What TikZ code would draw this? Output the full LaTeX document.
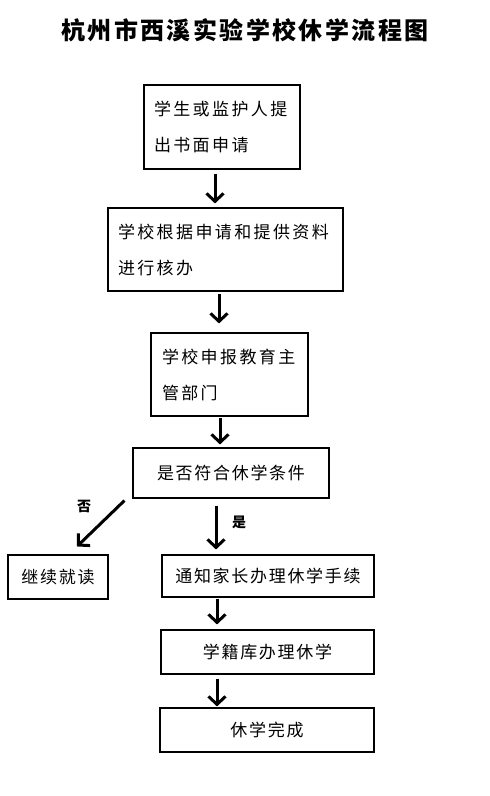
\documentclass[tikz,border=0pt]{standalone}
\usepackage{fontspec}
\usetikzlibrary{arrows.meta,calc}
\newfontfamily\cjk{Noto Sans CJK SC}[LetterSpace=10]
\newfontfamily\cjkwide{Noto Sans CJK SC}[LetterSpace=14]
\newfontfamily\cjktitle{Noto Sans CJK SC}[LetterSpace=10]
\begin{document}
\begin{tikzpicture}[x=1pt,y=-1pt,
  box/.style={draw,line width=1.1pt,inner sep=0pt},
  twoline/.style={box,align=left,font=\fontsize{17}{36}\cjkwide},
  oneline/.style={box,font=\fontsize{17}{20}\cjk},
  arr/.style={line width=3pt,arrows={-Straight Barb[length=8pt,width=17pt]}},
  lab/.style={font=\fontsize{14}{16}\cjk\bfseries,inner sep=0pt}]
\path[use as bounding box] (0,0) rectangle (490,796);
\node[font=\fontsize{24}{28}\cjktitle\bfseries,inner sep=0pt] (title) at (245,30) {杭州市西溪实验学校休学流程图};
\node[twoline,minimum width=156,minimum height=84,text width=136] (b1) at (222,127) {学生或监护人提\\出书面申请};
\node[twoline,minimum width=235,minimum height=83,text width=215] (b2) at (225.5,249.5) {学校根据申请和提供资料\\进行核办};
\node[twoline,minimum width=157,minimum height=83,text width=135] (b3) at (229.5,374.5) {学校申报教育主\\管部门};
\node[oneline,minimum width=196,minimum height=50] (b4) at (231,473) {是否符合休学条件};
\node[oneline,minimum width=100,minimum height=44] (b5) at (58,577) {继续就读};
\node[oneline,minimum width=212,minimum height=42] (b6) at (268,576) {通知家长办理休学手续};
\node[oneline,minimum width=213,minimum height=44] (b7) at (267.5,652) {学籍库办理休学};
\node[oneline,minimum width=214,minimum height=44] (b8) at (267,730) {休学完成};
\draw[arr] ($(215,0 |- b1.south)+(0,4)$) -- ($(215,0 |- b2.north)+(0,-4)$);
\draw[arr] ($(219,0 |- b2.south)+(0,2)$) -- ($(219,0 |- b3.north)+(0,-9)$);
\draw[arr] ($(220,0 |- b3.south)+(0,1)$) -- ($(220,0 |- b4.north)+(0,-3)$);
\draw[arr] ($(b4.south west)+(-8,2)$) -- ($(b5.north)+(19,-8)$);
\draw[arr] ($(216,0 |- b4.south)+(0,7)$) -- ($(216,0 |- b6.north)+(0,-5)$);
\draw[arr] ($(217,0 |- b6.south)+(0,1)$) -- ($(217,0 |- b7.north)+(0,-5)$);
\draw[arr] ($(217,0 |- b7.south)+(0,4)$) -- ($(217,0 |- b8.north)+(0,-1)$);
\node[lab] (no) at (84,506) {否};
\node[lab] (yes) at (239,522) {是};
\end{tikzpicture}
\end{document}
